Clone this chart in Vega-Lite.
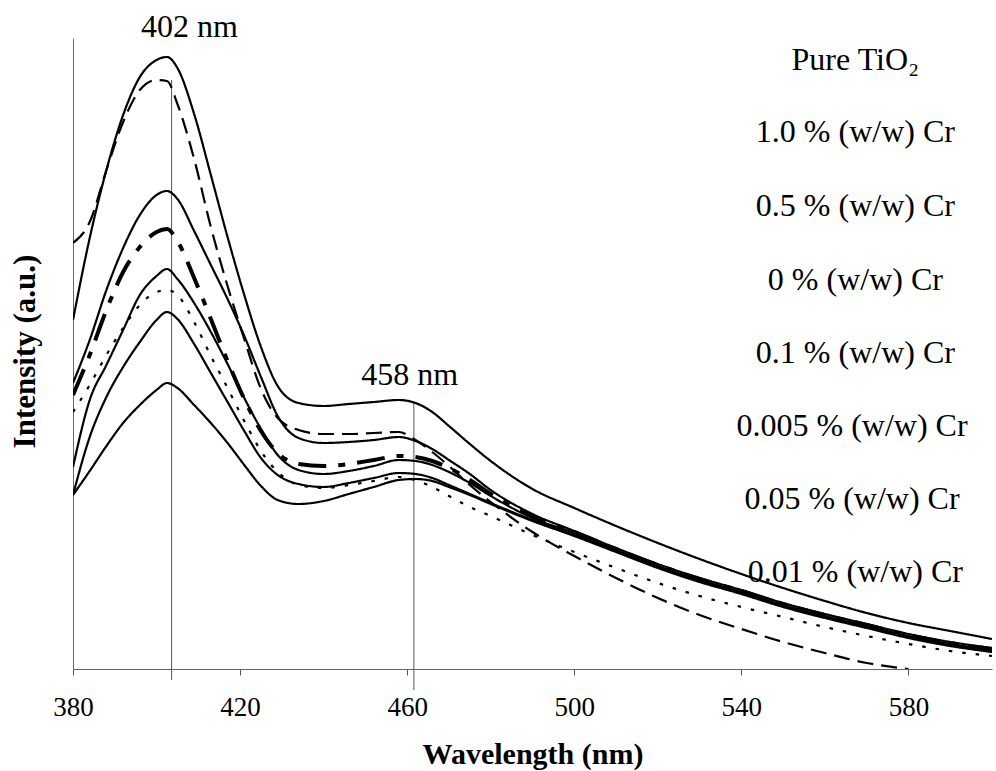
{
"$schema": "https://vega.github.io/schema/vega-lite/v6.json",
"width": 919, "height": 631,
"autosize": {"type": "none"},
"padding": {"left": 73, "top": 38, "right": 4, "bottom": 102},
"background": "white",
"config": {"view": {"stroke": null}, "font": "Liberation Serif"},
"datasets": {
"curves": [
{"s":"T","x":380,"y":349},{"s":"T","x":384,"y":431},{"s":"T","x":388,"y":499},{"s":"T","x":392,"y":554},{"s":"T","x":396,"y":592},{"s":"T","x":400,"y":609},{"s":"T","x":402.5,"y":612},{"s":"T","x":405,"y":601},{"s":"T","x":409,"y":555},{"s":"T","x":413,"y":494},{"s":"T","x":417,"y":432},{"s":"T","x":421,"y":374},{"s":"T","x":425,"y":322},{"s":"T","x":429,"y":283},{"s":"T","x":434,"y":266},{"s":"T","x":440,"y":263},{"s":"T","x":446,"y":265},{"s":"T","x":452,"y":267},{"s":"T","x":458,"y":269},{"s":"T","x":462,"y":266},{"s":"T","x":466,"y":257},{"s":"T","x":470,"y":243},{"s":"T","x":475,"y":225},{"s":"T","x":480,"y":208},{"s":"T","x":490,"y":180},{"s":"T","x":500,"y":161},{"s":"T","x":510,"y":143},{"s":"T","x":520,"y":126},{"s":"T","x":530,"y":110},{"s":"T","x":540,"y":95},{"s":"T","x":550,"y":81},{"s":"T","x":560,"y":68},{"s":"T","x":570,"y":56},{"s":"T","x":580,"y":46},{"s":"T","x":590,"y":38},{"s":"T","x":600,"y":30},
{"s":"LD","x":380,"y":426},{"s":"LD","x":384,"y":447},{"s":"LD","x":388,"y":499},{"s":"LD","x":392,"y":547},{"s":"LD","x":396,"y":579},{"s":"LD","x":400,"y":589},{"s":"LD","x":402.5,"y":588},{"s":"LD","x":405,"y":565},{"s":"LD","x":409,"y":510},{"s":"LD","x":413,"y":442},{"s":"LD","x":417,"y":383},{"s":"LD","x":421,"y":330},{"s":"LD","x":425,"y":280},{"s":"LD","x":429,"y":251},{"s":"LD","x":434,"y":239},{"s":"LD","x":440,"y":235},{"s":"LD","x":446,"y":235},{"s":"LD","x":452,"y":236},{"s":"LD","x":458,"y":237},{"s":"LD","x":462,"y":229},{"s":"LD","x":466,"y":217},{"s":"LD","x":470,"y":203},{"s":"LD","x":475,"y":184},{"s":"LD","x":480,"y":167},{"s":"LD","x":490,"y":137},{"s":"LD","x":500,"y":113},{"s":"LD","x":510,"y":91},{"s":"LD","x":520,"y":71},{"s":"LD","x":530,"y":54},{"s":"LD","x":540,"y":40},{"s":"LD","x":550,"y":27},{"s":"LD","x":560,"y":16},{"s":"LD","x":570,"y":6},{"s":"LD","x":580,"y":0},
{"s":"S3","x":380,"y":286},{"s":"S3","x":384,"y":329},{"s":"S3","x":388,"y":379},{"s":"S3","x":392,"y":421},{"s":"S3","x":396,"y":454},{"s":"S3","x":400,"y":474},{"s":"S3","x":402.5,"y":478},{"s":"S3","x":405,"y":470},{"s":"S3","x":409,"y":438},{"s":"S3","x":413,"y":404},{"s":"S3","x":417,"y":370},{"s":"S3","x":421,"y":333},{"s":"S3","x":425,"y":292},{"s":"S3","x":429,"y":253},{"s":"S3","x":434,"y":231},{"s":"S3","x":440,"y":226},{"s":"S3","x":446,"y":227},{"s":"S3","x":452,"y":229},{"s":"S3","x":458,"y":232},{"s":"S3","x":462,"y":228},{"s":"S3","x":466,"y":220},{"s":"S3","x":470,"y":209},{"s":"S3","x":475,"y":195},{"s":"S3","x":480,"y":179},{"s":"S3","x":490,"y":155},{"s":"S3","x":500,"y":138},{"s":"S3","x":510,"y":121},{"s":"S3","x":520,"y":105},{"s":"S3","x":530,"y":91},{"s":"S3","x":540,"y":79},{"s":"S3","x":550,"y":66},{"s":"S3","x":560,"y":55},{"s":"S3","x":570,"y":45},{"s":"S3","x":580,"y":35},{"s":"S3","x":590,"y":27},{"s":"S3","x":600,"y":21},
{"s":"HD","x":380,"y":274},{"s":"HD","x":384,"y":314},{"s":"HD","x":388,"y":359},{"s":"HD","x":392,"y":397},{"s":"HD","x":396,"y":422},{"s":"HD","x":400,"y":437},{"s":"HD","x":402.5,"y":440},{"s":"HD","x":405,"y":428},{"s":"HD","x":409,"y":391},{"s":"HD","x":413,"y":350},{"s":"HD","x":417,"y":308},{"s":"HD","x":421,"y":270},{"s":"HD","x":425,"y":238},{"s":"HD","x":429,"y":216},{"s":"HD","x":434,"y":205},{"s":"HD","x":440,"y":203},{"s":"HD","x":446,"y":205},{"s":"HD","x":452,"y":209},{"s":"HD","x":458,"y":213},{"s":"HD","x":462,"y":212},{"s":"HD","x":466,"y":208},{"s":"HD","x":470,"y":201},{"s":"HD","x":475,"y":189},{"s":"HD","x":480,"y":175},{"s":"HD","x":490,"y":153},{"s":"HD","x":500,"y":137},{"s":"HD","x":510,"y":120},{"s":"HD","x":520,"y":104},{"s":"HD","x":530,"y":90},{"s":"HD","x":540,"y":78},{"s":"HD","x":550,"y":65},{"s":"HD","x":560,"y":54},{"s":"HD","x":570,"y":44},{"s":"HD","x":580,"y":34},{"s":"HD","x":590,"y":26},{"s":"HD","x":600,"y":20},
{"s":"S5","x":380,"y":202},{"s":"S5","x":384,"y":269},{"s":"S5","x":388,"y":304},{"s":"S5","x":392,"y":339},{"s":"S5","x":396,"y":374},{"s":"S5","x":400,"y":393},{"s":"S5","x":402.5,"y":400},{"s":"S5","x":405,"y":390},{"s":"S5","x":409,"y":366},{"s":"S5","x":413,"y":337},{"s":"S5","x":417,"y":305},{"s":"S5","x":421,"y":271},{"s":"S5","x":425,"y":240},{"s":"S5","x":429,"y":214},{"s":"S5","x":434,"y":199},{"s":"S5","x":440,"y":195},{"s":"S5","x":446,"y":198},{"s":"S5","x":452,"y":203},{"s":"S5","x":458,"y":209},{"s":"S5","x":462,"y":208},{"s":"S5","x":466,"y":204},{"s":"S5","x":470,"y":197},{"s":"S5","x":475,"y":186},{"s":"S5","x":480,"y":173},{"s":"S5","x":490,"y":151},{"s":"S5","x":500,"y":136},{"s":"S5","x":510,"y":119},{"s":"S5","x":520,"y":103},{"s":"S5","x":530,"y":89},{"s":"S5","x":540,"y":77},{"s":"S5","x":550,"y":64},{"s":"S5","x":560,"y":53},{"s":"S5","x":570,"y":43},{"s":"S5","x":580,"y":33},{"s":"S5","x":590,"y":25},{"s":"S5","x":600,"y":19},
{"s":"DT","x":380,"y":257},{"s":"DT","x":384,"y":284},{"s":"DT","x":388,"y":314},{"s":"DT","x":392,"y":341},{"s":"DT","x":396,"y":364},{"s":"DT","x":400,"y":377},{"s":"DT","x":402.5,"y":379},{"s":"DT","x":405,"y":374},{"s":"DT","x":409,"y":347},{"s":"DT","x":413,"y":313},{"s":"DT","x":417,"y":281},{"s":"DT","x":421,"y":248},{"s":"DT","x":425,"y":218},{"s":"DT","x":429,"y":197},{"s":"DT","x":434,"y":184},{"s":"DT","x":440,"y":181},{"s":"DT","x":446,"y":184},{"s":"DT","x":452,"y":188},{"s":"DT","x":458,"y":192},{"s":"DT","x":462,"y":189},{"s":"DT","x":466,"y":182},{"s":"DT","x":470,"y":173},{"s":"DT","x":475,"y":162},{"s":"DT","x":480,"y":153},{"s":"DT","x":490,"y":134},{"s":"DT","x":500,"y":117},{"s":"DT","x":510,"y":101},{"s":"DT","x":520,"y":86},{"s":"DT","x":530,"y":73},{"s":"DT","x":540,"y":62},{"s":"DT","x":550,"y":52},{"s":"DT","x":560,"y":42},{"s":"DT","x":570,"y":33},{"s":"DT","x":580,"y":25},{"s":"DT","x":590,"y":18},{"s":"DT","x":600,"y":13},
{"s":"S7","x":380,"y":174},{"s":"S7","x":384,"y":232},{"s":"S7","x":388,"y":272},{"s":"S7","x":392,"y":302},{"s":"S7","x":396,"y":327},{"s":"S7","x":400,"y":349},{"s":"S7","x":402.5,"y":357},{"s":"S7","x":405,"y":350},{"s":"S7","x":409,"y":325},{"s":"S7","x":413,"y":296},{"s":"S7","x":417,"y":267},{"s":"S7","x":421,"y":238},{"s":"S7","x":425,"y":211},{"s":"S7","x":429,"y":194},{"s":"S7","x":434,"y":185},{"s":"S7","x":440,"y":182},{"s":"S7","x":446,"y":186},{"s":"S7","x":452,"y":191},{"s":"S7","x":458,"y":196},{"s":"S7","x":462,"y":195},{"s":"S7","x":466,"y":191},{"s":"S7","x":470,"y":184},{"s":"S7","x":475,"y":175},{"s":"S7","x":480,"y":166},{"s":"S7","x":490,"y":149},{"s":"S7","x":500,"y":134},{"s":"S7","x":510,"y":118},{"s":"S7","x":520,"y":102},{"s":"S7","x":530,"y":88},{"s":"S7","x":540,"y":76},{"s":"S7","x":550,"y":63},{"s":"S7","x":560,"y":52},{"s":"S7","x":570,"y":42},{"s":"S7","x":580,"y":32},{"s":"S7","x":590,"y":24},{"s":"S7","x":600,"y":18},
{"s":"S8","x":380,"y":174},{"s":"S8","x":384,"y":198},{"s":"S8","x":388,"y":223},{"s":"S8","x":392,"y":246},{"s":"S8","x":396,"y":264},{"s":"S8","x":400,"y":279},{"s":"S8","x":402.5,"y":286},{"s":"S8","x":405,"y":281},{"s":"S8","x":409,"y":264},{"s":"S8","x":413,"y":246},{"s":"S8","x":417,"y":226},{"s":"S8","x":421,"y":204},{"s":"S8","x":425,"y":183},{"s":"S8","x":429,"y":169},{"s":"S8","x":434,"y":165},{"s":"S8","x":440,"y":168},{"s":"S8","x":446,"y":175},{"s":"S8","x":452,"y":182},{"s":"S8","x":458,"y":189},{"s":"S8","x":462,"y":190},{"s":"S8","x":466,"y":188},{"s":"S8","x":470,"y":182},{"s":"S8","x":475,"y":174},{"s":"S8","x":480,"y":165},{"s":"S8","x":490,"y":148},{"s":"S8","x":500,"y":133},{"s":"S8","x":510,"y":117},{"s":"S8","x":520,"y":101},{"s":"S8","x":530,"y":87},{"s":"S8","x":540,"y":75},{"s":"S8","x":550,"y":62},{"s":"S8","x":560,"y":51},{"s":"S8","x":570,"y":41},{"s":"S8","x":580,"y":31},{"s":"S8","x":590,"y":23},{"s":"S8","x":600,"y":17}
],
"rules": [{"x":403.6,"y":589,"y2":-11},{"x":461.6,"y":266,"y2":-21}],
"labels": [
{"x":407.9,"y":632,"t":"402 nm"},
{"x":460.6,"y":284,"t":"458 nm"},
{"x":567.3,"y":599,"t":"Pure TiO₂"},
{"x":567.3,"y":527,"t":"1.0 % (w/w) Cr"},
{"x":567.3,"y":453,"t":"0.5 % (w/w) Cr"},
{"x":567.3,"y":379,"t":"0 % (w/w) Cr"},
{"x":567.3,"y":306,"t":"0.1 % (w/w) Cr"},
{"x":566.5,"y":233,"t":"0.005 % (w/w) Cr"},
{"x":566.5,"y":160,"t":"0.05 % (w/w) Cr"},
{"x":567.3,"y":87,"t":"0.01 % (w/w) Cr"}
]
},
"encoding": {
"x": {"field": "x", "type": "quantitative", "scale": {"domain": [380, 600], "nice": false, "zero": false},
 "axis": {"title": "Wavelength (nm)", "values": [380,420,460,500,540,580], "grid": false, "tickSize": 6, "tickColor": "#555", "tickWidth": 1, "domainColor": "#666", "domainWidth": 1, "labelFont": "Liberation Serif", "labelFontSize": 27, "labelColor": "black", "labelPadding": 19, "labelFlush": false, "labelOverlap": false, "titleFont": "Liberation Serif", "titleFontSize": 30, "titleFontWeight": "bold", "titleColor": "black", "titleY": 94, "titleBaseline": "alphabetic"}},
"y": {"field": "y", "type": "quantitative", "scale": {"domain": [0, 631], "nice": false, "zero": false},
 "axis": {"title": "Intensity (a.u.)", "labels": false, "ticks": false, "grid": false, "domainColor": "#666", "domainWidth": 1, "titleFont": "Liberation Serif", "titleFontSize": 31, "titleFontWeight": "bold", "titleColor": "black", "titleX": -39, "titleY": 313, "titleAngle": 270, "titleAlign": "center", "titleBaseline": "alphabetic"}}
},
"layer": [
{"data": {"name": "rules"}, "mark": {"type": "rule", "color": "#555", "strokeWidth": 1}, "encoding": {"y2": {"field": "y2"}}},
{"data": {"name": "curves"}, "transform": [{"filter": "datum.s !== 'HD'"}],
 "mark": {"type": "line", "interpolate": "monotone", "color": "black", "strokeWidth": 2.2, "clip": true},
 "encoding": {"strokeDash": {"field": "s", "type": "nominal", "scale": {"domain": ["T","LD","S3","S5","DT","S7","S8"], "range": [[1,0],[16,8],[1,0],[1,0],[3.5,10],[1,0],[1,0]]}, "legend": null}}},
{"data": {"name": "curves"}, "transform": [{"filter": "datum.s === 'HD'"}],
 "mark": {"type": "line", "interpolate": "monotone", "color": "black", "strokeWidth": 4, "strokeDash": [28,12,7,12], "clip": true},
 "encoding": {}},
{"data": {"name": "labels"}, "mark": {"type": "text", "font": "Liberation Serif", "fontSize": 32, "align": "center", "baseline": "alphabetic", "color": "black"},
 "encoding": {"text": {"field": "t", "type": "nominal"}}}
]
}
